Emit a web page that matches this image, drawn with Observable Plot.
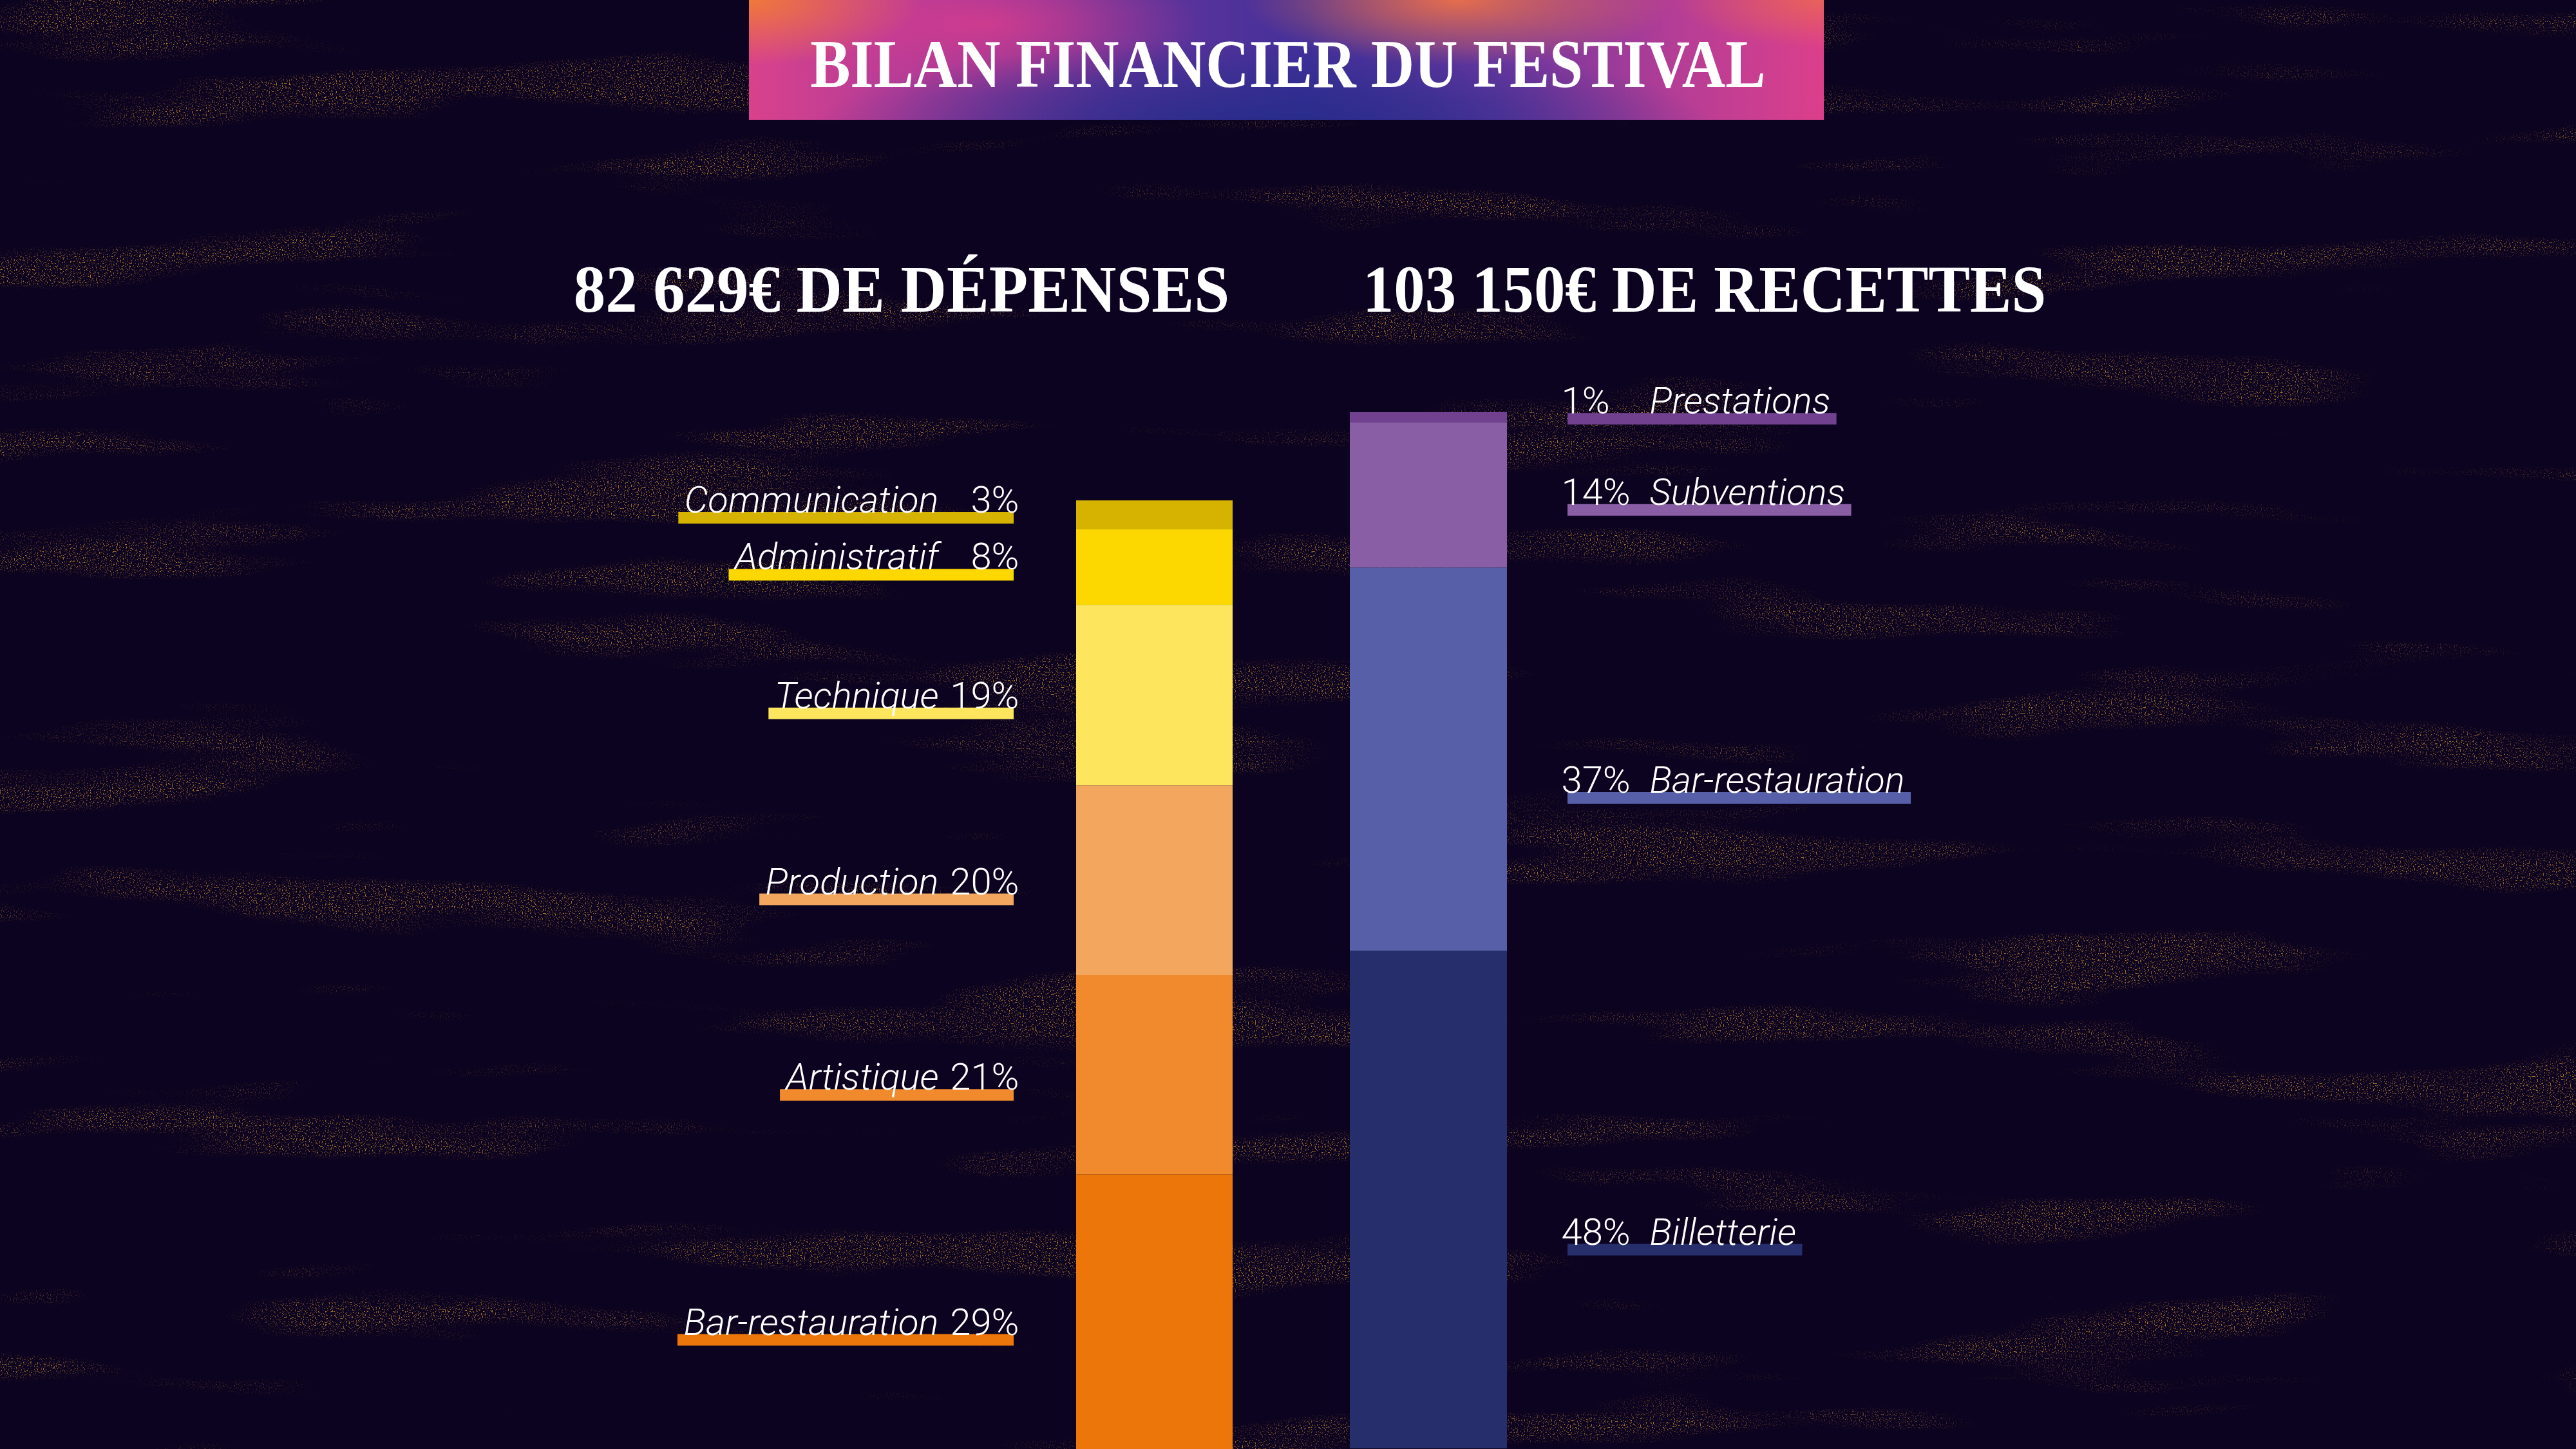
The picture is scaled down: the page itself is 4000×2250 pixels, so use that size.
<!DOCTYPE html>
<html>
<head>
<meta charset="utf-8">
<script src="https://cdn.jsdelivr.net/npm/d3@7"></script>
<script src="https://cdn.jsdelivr.net/npm/@observablehq/plot@0.6"></script>
<style>
  html, body { margin: 0; padding: 0; background: #0d0422; }
  #root { position: relative; width: 4000px; height: 2250px; overflow: hidden; background: #0c0320; }
  #texture { position: absolute; left: 0; top: 0; }
  #banner { position: absolute; left: 1163px; top: 0; width: 1669px; height: 186px;
    background:
      radial-gradient(ellipse 42% 75% at 48% 108%, rgba(38,44,138,1) 0%, rgba(38,44,138,0.6) 45%, rgba(38,44,138,0) 100%),
      radial-gradient(ellipse 16% 55% at 0% 0%, rgba(240,120,58,1) 0%, rgba(240,120,58,0) 100%),
      radial-gradient(ellipse 20% 55% at 66% 0%, rgba(236,112,72,0.95) 0%, rgba(236,112,72,0) 100%),
      radial-gradient(ellipse 14% 40% at 100% 0%, rgba(238,112,70,0.7) 0%, rgba(238,112,70,0) 100%),
      radial-gradient(ellipse 20% 60% at 22% 20%, rgba(220,60,140,0.8) 0%, rgba(220,60,140,0) 100%),
      linear-gradient(90deg, #d9418c 0%, #b33c98 14%, #64349b 34%, #43309a 52%, #6c379f 70%, #b43d96 86%, #dc3f8b 100%);
  }
  .serif { position: absolute; color: #fff; font-family: "Liberation Serif", "DejaVu Serif", serif;
    font-weight: bold; white-space: nowrap; line-height: 1; transform-origin: center; }
  .plot { position: absolute; left: 0; top: 0; }
</style>
</head>
<body>
<div id="root">
  <svg id="texture" width="4000" height="2250">
    <filter id="grit" x="0" y="0" width="100%" height="100%" filterUnits="userSpaceOnUse">
      <feTurbulence type="fractalNoise" baseFrequency="0.0014 0.011" numOctaves="3" seed="11" result="t1"/>
      <feColorMatrix in="t1" type="matrix" values="0 0 0 0 0  0 0 0 0 0  0 0 0 0 0  6 0 0 0 -3.4" result="m1"/>
      <feTurbulence type="fractalNoise" baseFrequency="0.55" numOctaves="1" seed="4" result="t2"/>
      <feColorMatrix in="t2" type="matrix" values="0 0 0 0 0  0 0 0 0 0  0 0 0 0 0  9 0 0 0 -5.2" result="m2"/>
      <feComposite in="m2" in2="m1" operator="arithmetic" k1="1" k2="0" k3="0" k4="0" result="speck"/>
      <feFlood flood-color="#d9982c" result="gold"/>
      <feComposite in="gold" in2="speck" operator="in"/>
    </filter>
    <rect width="4000" height="2250" filter="url(#grit)" opacity="0.75"/>
  </svg>
  <div id="banner"></div>
  <div id="title" class="serif"></div>
  <div id="headL" class="serif"></div>
  <div id="headR" class="serif"></div>
  <div id="plotL" class="plot"></div>
  <div id="plotR" class="plot"></div>
</div>
<script>
// ---------- data ----------
const titleText = "BILAN FINANCIER DU FESTIVAL";
const expenseTotal = "82 629€";
const revenueTotal = "103 150€";
const expenseCategories = ["Communication", "Administratif", "Technique", "Production", "Artistique", "Bar-restauration"];
const expenseShares = [3, 8, 19, 20, 21, 29];
const revenueCategories = ["Prestations", "Subventions", "Bar-restauration", "Billetterie"];
const revenueShares = [1, 14, 37, 48];

// ---------- styles ----------
const expenseColors = ["#d5b300", "#fcd800", "#fde65e", "#f2a65e", "#f08a2d", "#ec760a"];
const revenueColors = ["#71408f", "#895ea5", "#565fa7", "#272e6c"];
const labelFont = "Roboto";
const labelSize = 58;
const labelWeight = 300;

// ---------- html text ----------
function placeText(id, text, cx, baseline, size, sx) {
  const el = document.getElementById(id);
  el.textContent = text;
  el.style.fontSize = size + "px";
  const w = el.getBoundingClientRect().width;
  el.style.left = (cx - w / 2) + "px";
  el.style.top = (baseline - 0.8375 * size) + "px";
  el.style.transform = `scaleX(${sx})`;
}
placeText("title", titleText, 2000, 136, 106, 0.88);
placeText("headL", `${expenseTotal} DE DÉPENSES`, 1400, 484, 104, 0.95);
placeText("headR", `${revenueTotal} DE RECETTES`, 2647, 484, 104, 0.93);

// ---------- helpers ----------
const ctx = document.createElement("canvas").getContext("2d");
function textWidth(t, italic) {
  ctx.font = `${italic ? "italic " : ""}${labelWeight} ${labelSize}px ${labelFont}`;
  return ctx.measureText(t).width;
}
function buildTable(cats, shares, colors, side) {
  // stacked bottom-up: last category at the bottom
  let below = shares.reduce((a, b) => a + b, 0);
  return cats.map((c, i) => {
    below -= shares[i];
    return {side, cat: c, share: shares[i], pct: `${shares[i]}%`, color: colors[i],
            labelY: below + 0.4 * shares[i]};
  });
}

const common = {
  width: 4000, height: 2250, margin: 0,
  style: {background: "transparent", overflow: "visible"}
};

// ---------- left: dépenses ----------
const L = {band: [1671, 1914], y: [2251, 777], nameEnd: 1457, pctEnd: 1582};
const left = buildTable(expenseCategories, expenseShares, expenseColors, "Dépenses");
const lc = (L.band[0] + L.band[1]) / 2;
const leftUnderlines = left.map(d => {
  const wn = textWidth(d.cat, true);
  const x1 = L.nameEnd - wn - 9, x2 = L.pctEnd - 8;
  return Plot.tickY([d], {x: "side", y: "labelY", stroke: d.color, strokeWidth: 18,
    insetLeft: x1 - L.band[0], insetRight: L.band[1] - x2});
});
const plotL = Plot.plot({
  ...common,
  x: {domain: ["Dépenses"], range: L.band, padding: 0, axis: null},
  y: {domain: [0, 100], range: L.y, axis: null},
  color: {domain: expenseCategories, range: expenseColors},
  marks: [
    Plot.barY(left, Plot.stackY({x: "side", y: "share", fill: "cat", reverse: true})),
    ...leftUnderlines,
    Plot.text(left, {x: "side", y: "labelY", text: "cat", textAnchor: "end", lineAnchor: "bottom",
      dx: L.nameEnd - lc, dy: -8, fill: "white", fontFamily: labelFont, fontSize: labelSize,
      fontStyle: "italic", fontWeight: labelWeight}),
    Plot.text(left, {x: "side", y: "labelY", text: "pct", textAnchor: "end", lineAnchor: "bottom",
      dx: L.pctEnd - lc, dy: -8, fill: "white", fontFamily: labelFont, fontSize: labelSize,
      fontWeight: labelWeight})
  ]
});
document.getElementById("plotL").appendChild(plotL);

// ---------- right: recettes ----------
const R = {band: [2096, 2340], y: [2249, 640], pctStart: 2424, nameStart: 2561};
const right = buildTable(revenueCategories, revenueShares, revenueColors, "Recettes");
const rc = (R.band[0] + R.band[1]) / 2;
const rightUnderlines = right.map(d => {
  const wn = textWidth(d.cat, true);
  const x1 = R.pctStart + 10, x2 = R.nameStart + wn + 10;
  return Plot.tickY([d], {x: "side", y: "labelY", stroke: d.color, strokeWidth: 18,
    insetLeft: x1 - R.band[0], insetRight: R.band[1] - x2});
});
const plotR = Plot.plot({
  ...common,
  x: {domain: ["Recettes"], range: R.band, padding: 0, axis: null},
  y: {domain: [0, 100], range: R.y, axis: null},
  color: {domain: revenueCategories, range: revenueColors},
  marks: [
    Plot.barY(right, Plot.stackY({x: "side", y: "share", fill: "cat", reverse: true})),
    ...rightUnderlines,
    Plot.text(right, {x: "side", y: "labelY", text: "pct", textAnchor: "start", lineAnchor: "bottom",
      dx: R.pctStart - rc, dy: -8, fill: "white", fontFamily: labelFont, fontSize: labelSize,
      fontWeight: labelWeight}),
    Plot.text(right, {x: "side", y: "labelY", text: "cat", textAnchor: "start", lineAnchor: "bottom",
      dx: R.nameStart - rc, dy: -8, fill: "white", fontFamily: labelFont, fontSize: labelSize,
      fontStyle: "italic", fontWeight: labelWeight})
  ]
});
document.getElementById("plotR").appendChild(plotR);
</script>
</body>
</html>
